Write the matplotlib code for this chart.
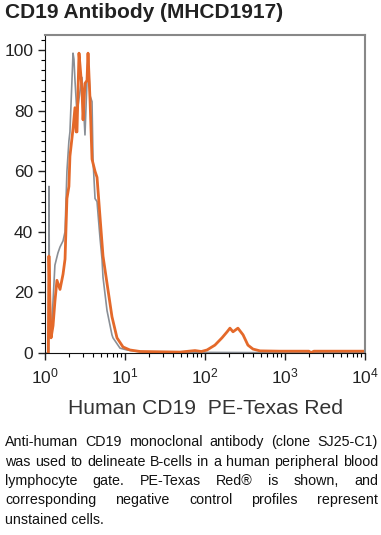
import numpy as np
import matplotlib
matplotlib.use("Agg")
import matplotlib.pyplot as plt
from matplotlib.ticker import LogLocator, MultipleLocator, NullFormatter

plt.rcParams['font.family'] = ['Liberation Sans', 'DejaVu Sans']

title = "CD19 Antibody (MHCD1917)"
x_label = "Human CD19  PE-Texas Red"
caption_lines = [
    "Anti-human CD19 monoclonal antibody (clone SJ25-C1)",
    "was used to delineate B-cells in a human peripheral blood",
    "lymphocyte gate. PE-Texas Red\u00ae is shown, and",
    "corresponding negative control profiles represent",
    "unstained cells.",
]

# unstained control (gray)
ctrl_x = [1.05, 1.11, 1.12, 1.14, 1.19, 1.22, 1.33, 1.45, 1.54, 1.68, 1.78, 1.88,
          1.99, 2.05, 2.24, 2.30, 2.37, 2.51, 2.66, 2.90, 3.16, 3.35, 3.45, 3.65,
          3.87, 3.98, 4.22, 4.47, 4.87, 5.16, 5.31, 5.96, 6.87, 7.08, 8.66, 10.6,
          15.4, 50, 100, 1000, 10000]
ctrl_y = [0, 0, 55, 12, 9, 10, 29, 33, 35, 37, 40, 60,
          70, 73, 99, 97, 90, 79, 84, 91, 72, 90, 99, 85,
          83, 64, 51, 50, 38, 31, 25, 14, 6, 5, 1.6, 1,
          0.4, 0.3, 0.2, 0.1, 0.1]

# CD19 PE-Texas Red stained (orange)
cd19_x = [1.10, 1.12, 1.15, 1.19, 1.26, 1.33, 1.41, 1.54, 1.68, 1.78, 1.88, 1.99,
          2.05, 2.24, 2.37, 2.45, 2.51, 2.66, 2.74, 2.90, 2.99, 3.16, 3.35, 3.45,
          3.65, 3.87, 4.22, 4.47, 4.87, 5.31, 5.96, 6.87, 7.94, 9.44, 11.5, 15.4,
          48.7, 75, 90, 106, 133, 163, 189, 205, 224, 258, 299, 344, 398, 487,
          866, 2000, 2100, 2300, 10000]
cd19_y = [0, 32, 18, 5, 9, 17, 24, 21, 26, 31, 51, 55,
          65, 74, 81, 73, 73, 99, 95, 87, 77, 89, 90, 99,
          84, 64, 60, 58, 45, 32, 23, 12, 5, 2, 1, 0.5,
          0.3, 0.8, 0.5, 1, 2.6, 5, 7, 8.2, 7, 8.2, 6, 2.6, 1.3, 0.7,
          0.6, 0.6, 0.1, 0.6, 0.6]

fig = plt.figure(figsize=(3.81, 5.35), dpi=100)
ax = fig.add_axes([45/381, 1-353/535, 320/381, 318/535])

ax.plot(ctrl_x, ctrl_y, color='#8a8f96', lw=1.2)
ax.plot(cd19_x, cd19_y, color='#e4692a', lw=2.0)

ax.set_xscale('log')
ax.set_xlim(1, 1e4)
ax.set_ylim(0, 105)
ax.set_yticks([0, 20, 40, 60, 80, 100])
ax.yaxis.set_minor_locator(MultipleLocator(20/6))
ax.xaxis.set_major_locator(LogLocator(base=10, numticks=10))
ax.xaxis.set_minor_locator(LogLocator(base=10, subs=np.arange(2, 10), numticks=20))
ax.xaxis.set_minor_formatter(NullFormatter())
ax.tick_params(which='major', direction='out', length=5, width=1, labelsize=12.5, colors='#222222')
ax.tick_params(which='minor', direction='out', length=3, width=0.8)
ax.tick_params(axis='x', pad=5)

for side in ['top', 'right']:
    ax.spines[side].set_color('#888888')
    ax.spines[side].set_linewidth(1.5)
for side in ['left', 'bottom']:
    ax.spines[side].set_color('#111111')

ax.set_xlabel(x_label, fontsize=15.2, color='#333333', labelpad=9)

fig.text(5/381, 1-13/535, title, fontsize=15, fontweight='bold', color='#222222',
         ha='left', va='center')

# justified caption
fig.canvas.draw()
renderer = fig.canvas.get_renderer()
left, right = 5, 378
line_ys = [442, 462, 481, 500, 520]
for i, line in enumerate(caption_lines):
    yf = 1 - line_ys[i] / 535
    if i == len(caption_lines) - 1:
        fig.text(left/381, yf, line, fontsize=10.3, color='#111111', ha='left', va='center')
        continue
    words = line.split(' ')
    texts = [fig.text(0, yf, w, fontsize=10.3, color='#111111', ha='left', va='center') for w in words]
    widths = [t.get_window_extent(renderer).width for t in texts]
    gap = (right - left - sum(widths)) / (len(words) - 1)
    x = left
    for t, w in zip(texts, widths):
        t.set_x(x / 381)
        x += w + gap

fig.savefig("out.png", dpi=100)
